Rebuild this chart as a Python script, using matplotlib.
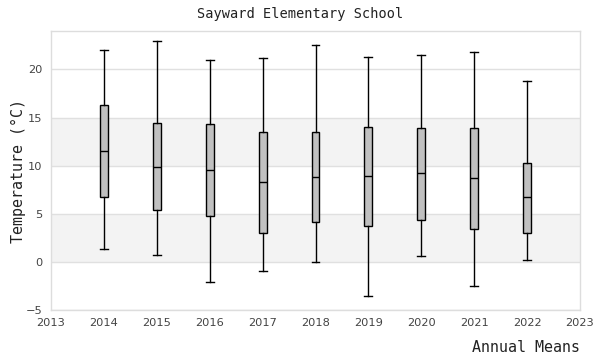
import matplotlib
matplotlib.use("Agg")
import matplotlib.pyplot as plt

years = [2014, 2015, 2016, 2017, 2018, 2019, 2020, 2021, 2022]
whisker_high = [22.0, 23.0, 21.0, 21.2, 22.5, 21.3, 21.5, 21.8, 18.8]
q3 = [16.3, 14.4, 14.3, 13.5, 13.5, 14.05, 13.95, 13.95, 10.3]
medians = [11.5, 9.9, 9.5, 8.25, 8.8, 8.9, 9.2, 8.7, 6.7]
q1 = [6.7, 5.35, 4.75, 3.05, 4.1, 3.7, 4.4, 3.4, 3.05]
whisker_low = [1.3, 0.7, -2.1, -0.95, 0.0, -3.55, 0.6, -2.5, 0.15]

mono = "DejaVu Sans Mono"

fig = plt.figure(figsize=(6, 3.6), dpi=100)
ax = fig.add_axes([0.085, 0.139, 0.8817, 0.775])

# shaded bands
for lo, hi in [(0, 5), (10, 15)]:
    ax.axhspan(lo, hi, color="#f3f3f3", zorder=0, lw=0)
for y in [-5, 0, 5, 10, 15, 20]:
    ax.axhline(y, color="#e0e0e0", lw=1, zorder=0.5)

stats = []
for i in range(len(years)):
    stats.append({
        "whislo": whisker_low[i],
        "q1": q1[i],
        "med": medians[i],
        "q3": q3[i],
        "whishi": whisker_high[i],
        "fliers": [],
    })

ax.bxp(stats, positions=years, widths=0.15, capwidths=0.15,
       patch_artist=True, showfliers=False, manage_ticks=False,
       boxprops=dict(facecolor="#c0c0c0", edgecolor="black", lw=1),
       medianprops=dict(color="black", lw=1),
       whiskerprops=dict(color="black", lw=1),
       capprops=dict(color="black", lw=1))

ax.set_xlim(2013, 2023)
ax.set_ylim(-5, 24)
ax.set_xticks(range(2013, 2024))
ax.set_yticks([-5, 0, 5, 10, 15, 20])
ax.tick_params(length=0, labelsize=8.2, labelcolor="#444444", pad=6)

for s in ax.spines.values():
    s.set_color("#dddddd")
    s.set_linewidth(1)

fig.text(0.5, 0.96, "Sayward Elementary School", ha="center", va="center",
         family=mono, fontsize=9.8, color="#222222")
fig.text(0.03, 0.526, "Temperature (°C)", ha="center", va="center", rotation=90,
         family=mono, fontsize=10.8, color="#222222")
fig.text(0.967, 0.036, "Annual Means", ha="right", va="center",
         family=mono, fontsize=10.8, color="#222222")

fig.savefig("out.png", dpi=100)
